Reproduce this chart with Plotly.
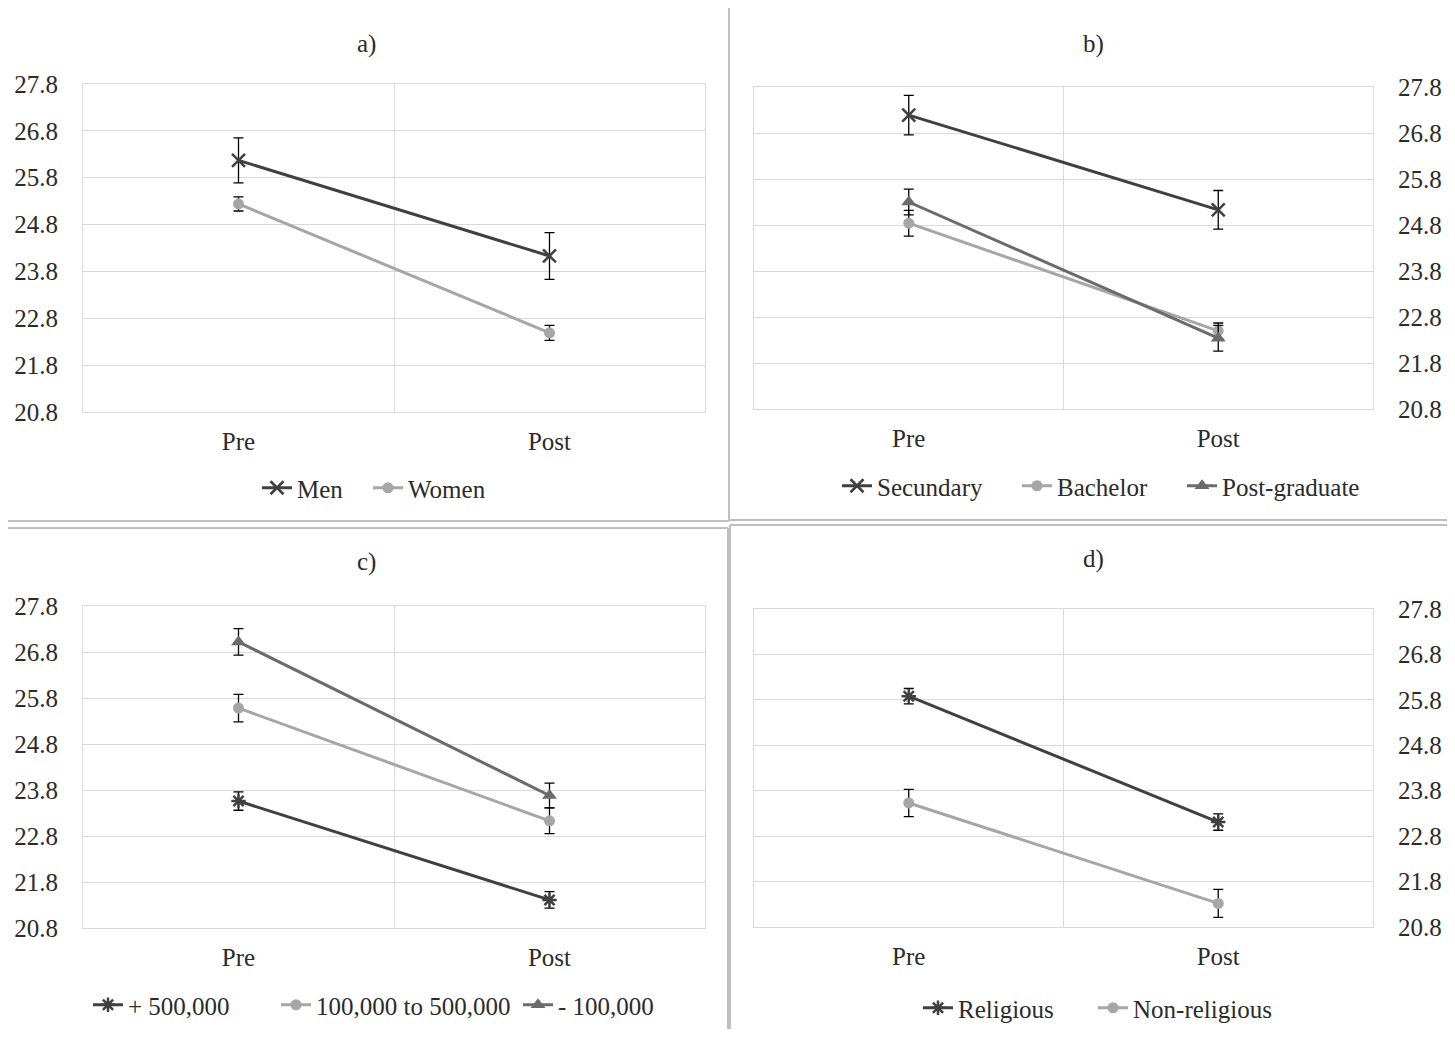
import plotly.graph_objects as go

# ---------------- data ----------------
periods = ["Pre", "Post"]
y_ticks = [20.8, 21.8, 22.8, 23.8, 24.8, 25.8, 26.8, 27.8]

# a) gender
men = [26.17, 24.13]
men_err = [0.48, 0.50]
women = [25.24, 22.49]
women_err = [0.15, 0.16]

# b) education
secundary = [27.19, 25.13]
secundary_err = [0.43, 0.42]
bachelor = [24.84, 22.50]
bachelor_err = [0.28, 0.17]
postgrad = [25.30, 22.34]
postgrad_err = [0.28, 0.28]

# c) town size
plus500 = [23.56, 21.41]
plus500_err = [0.20, 0.18]
mid100_500 = [25.58, 23.13]
mid100_500_err = [0.30, 0.28]
minus100 = [27.02, 23.68]
minus100_err = [0.29, 0.27]

# d) religiosity
religious = [25.88, 23.11]
religious_err = [0.17, 0.18]
nonreligious = [23.53, 21.32]
nonreligious_err = [0.30, 0.31]

# ---------------- style ----------------
VW, VH = 1455, 1037      # browser viewport
OFF = 8                  # default body margin of the page
W, H = VW - 2 * OFF, VH - 2 * OFF
FONT = "Liberation Serif, Times New Roman, serif"
FS = 25
TXT = "#2b2b2b"
DARK = "#404040"
LIGHT = "#a6a6a6"
MED = "#6b6b6b"
GRID = "#d9d9d9"
SEP = "#bfbfbf"

xpos = list(range(len(periods)))


def fx(px):
    return (px - OFF) / W


def fy(py):
    return 1 - (py - OFF) / H


fig = go.Figure()


def add_series(name, vals, errs, color, symbol, axis_idx, legend, size=12,
               open_sym=False, lw=None):
    sfx = "" if axis_idx == 1 else str(axis_idx)
    marker = dict(color=color, size=size, symbol=symbol)
    if open_sym:
        marker["line"] = dict(color=color, width=2.5)
    kw = {}
    if lw:
        kw["legendwidth"] = lw
    fig.add_trace(go.Scatter(
        x=xpos, y=vals, name=name, mode="lines+markers",
        line=dict(color=color, width=3),
        marker=marker,
        error_y=dict(type="data", array=errs, color="black", thickness=1.3, width=5),
        xaxis="x" + sfx, yaxis="y" + sfx, legend=legend,
        hoverinfo="skip", **kw,
    ))


add_series("Men", men, men_err, DARK, "x-thin-open", 1, "legend", 13, True, 66)
add_series("Women", women, women_err, LIGHT, "circle", 1, "legend", 11)

add_series("Secundary", secundary, secundary_err, DARK, "x-thin-open", 2, "legend2", 13, True, 135)
add_series("Bachelor", bachelor, bachelor_err, LIGHT, "circle", 2, "legend2", 11, False, 120)
add_series("Post-graduate", postgrad, postgrad_err, MED, "triangle-up", 2, "legend2", 13)

add_series("+ 500,000", plus500, plus500_err, DARK, "asterisk-open", 3, "legend3", 12, True, 143)
add_series("100,000 to 500,000", mid100_500, mid100_500_err, LIGHT, "circle", 3, "legend3", 11, False, 197)
add_series("- 100,000", minus100, minus100_err, MED, "triangle-up", 3, "legend3", 13)

add_series("Religious", religious, religious_err, DARK, "asterisk-open", 4, "legend4", 12, True, 130)
add_series("Non-religious", nonreligious, nonreligious_err, LIGHT, "circle", 4, "legend4", 11)

panels = {
    1: dict(x=(83, 705), y=(84, 412), side="left"),
    2: dict(x=(754, 1373), y=(87, 409), side="right"),
    3: dict(x=(83, 705), y=(606, 928), side="left"),
    4: dict(x=(754, 1373), y=(609, 927), side="right"),
}

layout = dict(
    width=W, height=H,
    margin=dict(l=0, r=0, t=0, b=0, pad=0, autoexpand=False),
    paper_bgcolor="white", plot_bgcolor="white",
    font=dict(family=FONT, size=FS, color=TXT),
    showlegend=True,
)

for i, p in panels.items():
    sfx = "" if i == 1 else str(i)
    layout["xaxis" + sfx] = dict(
        domain=[fx(p["x"][0]), fx(p["x"][1])], anchor="y" + sfx,
        range=[-0.5, len(periods) - 0.5],
        tickmode="array", tickvals=xpos, ticktext=periods,
        showgrid=False, zeroline=False, automargin=False,
        showline=True, mirror=True, linecolor=GRID, linewidth=1,
        ticks="", ticklabelstandoff=7,
        tickfont=dict(family=FONT, size=FS, color=TXT),
        minor=dict(tickmode="array", tickvals=[0.5], showgrid=True,
                   gridcolor=GRID, gridwidth=1, ticks=""),
        fixedrange=True,
    )
    layout["yaxis" + sfx] = dict(
        domain=[fy(p["y"][1]), fy(p["y"][0])], anchor="x" + sfx, side=p["side"],
        range=[y_ticks[0], y_ticks[-1]],
        tickmode="array", tickvals=y_ticks, tickformat=".1f",
        showgrid=True, gridcolor=GRID, gridwidth=1, zeroline=False, automargin=False,
        showline=True, mirror=True, linecolor=GRID, linewidth=1,
        ticks="", ticklabelstandoff=19,
        tickfont=dict(family=FONT, size=FS, color=TXT),
        fixedrange=True,
    )

leg_common = dict(orientation="h", xanchor="left", yanchor="middle",
                  font=dict(family=FONT, size=FS, color=TXT),
                  bgcolor="rgba(0,0,0,0)", borderwidth=0,
                  itemclick=False, itemdoubleclick=False)
layout["legend"] = dict(leg_common, x=fx(257), y=fy(488))
layout["legend2"] = dict(leg_common, x=fx(837), y=fy(486))
layout["legend3"] = dict(leg_common, x=fx(88), y=fy(1005))
layout["legend4"] = dict(leg_common, x=fx(918), y=fy(1008))

titles = [("a)", 366, 44), ("b)", 1093, 44), ("c)", 366, 562), ("d)", 1093, 559)]
layout["annotations"] = [
    dict(text=t, x=fx(x), y=fy(y), xref="paper", yref="paper",
         xanchor="center", yanchor="middle", showarrow=False,
         font=dict(family=FONT, size=FS, color=TXT))
    for t, x, y in titles
]


def hline(y, x0, x1):
    return dict(type="line", xref="paper", yref="paper",
                x0=fx(x0), x1=fx(x1), y0=fy(y), y1=fy(y),
                line=dict(color=SEP, width=2))


def vline(x, y0, y1):
    return dict(type="line", xref="paper", yref="paper",
                x0=fx(x), x1=fx(x), y0=fy(y0), y1=fy(y1),
                line=dict(color=SEP, width=2))


layout["shapes"] = [
    hline(521, OFF, 729), vline(729, 8, 521), hline(520, 729, VW - OFF),
    hline(528, OFF, 728), vline(728, 528, VH - OFF),
    hline(525, 730, VW - OFF), vline(730, 525, VH - OFF),
]

fig.update_layout(**layout)
fig.write_html("out.html", config={"displayModeBar": False})
